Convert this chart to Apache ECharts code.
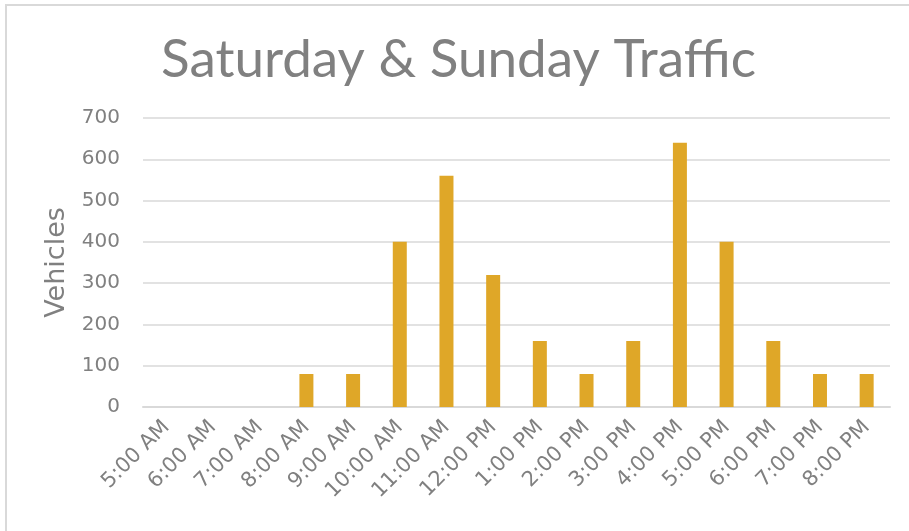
<!DOCTYPE html>
<html>
<head>
<meta charset="utf-8">
<script src="https://cdn.jsdelivr.net/npm/echarts@6/dist/echarts.min.js"></script>
<style>
  html, body { margin: 0; padding: 0; background: #fff; }
  #main { width: 909px; height: 531px; }
</style>
</head>
<body>
<div id="main"></div>
<script>
// data
var categories = ['5:00 AM', '6:00 AM', '7:00 AM', '8:00 AM', '9:00 AM', '10:00 AM', '11:00 AM', '12:00 PM',
  '1:00 PM', '2:00 PM', '3:00 PM', '4:00 PM', '5:00 PM', '6:00 PM', '7:00 PM', '8:00 PM'];
var vehicles = [0, 0, 0, 80, 80, 400, 560, 320, 160, 80, 160, 640, 400, 160, 80, 80];
var yTicks = { min: 0, max: 700, step: 100 };

var gray = '#808080';
var font = '"DejaVu Sans", sans-serif';
var titleFont = 'Lato, "Open Sans", sans-serif';

var myChart = echarts.init(document.getElementById('main'));
myChart.setOption({
  backgroundColor: '#fff',
  animation: false,
  // chart area frame, only top and left edges are visible
  graphic: [{
    type: 'rect',
    shape: { x: 6, y: 5, width: 1000, height: 1000 },
    style: { fill: 'none', stroke: '#d9d9d9', lineWidth: 2 },
    silent: true
  }],
  title: {
    text: 'Saturday & Sunday Traffic',
    left: 161,
    top: 33,
    padding: 0,
    textStyle: { color: gray, fontSize: 53, fontWeight: 'normal', fontFamily: titleFont }
  },
  grid: { left: 143, right: 19, top: 118, bottom: 124 },
  xAxis: {
    type: 'category',
    data: categories,
    axisLine: { lineStyle: { color: '#d9d9d9', width: 2 } },
    axisTick: { show: false },
    axisLabel: { color: gray, fontSize: 21, fontFamily: font, rotate: 45, margin: 17, interval: 0 }
  },
  yAxis: {
    type: 'value',
    min: yTicks.min,
    max: yTicks.max,
    interval: yTicks.step,
    name: 'Vehicles',
    nameLocation: 'middle',
    nameGap: 72,
    nameTextStyle: { color: gray, fontSize: 27, fontFamily: font },
    axisLine: { show: false },
    axisTick: { show: false },
    axisLabel: { color: gray, fontSize: 20, fontFamily: font, margin: 23 },
    splitLine: { lineStyle: { color: '#d9d9d9', width: 1.5 } }
  },
  series: [{
    name: 'Vehicles',
    type: 'bar',
    data: vehicles,
    barWidth: 14,
    itemStyle: { color: '#DFA728' }
  }]
});
</script>
</body>
</html>
